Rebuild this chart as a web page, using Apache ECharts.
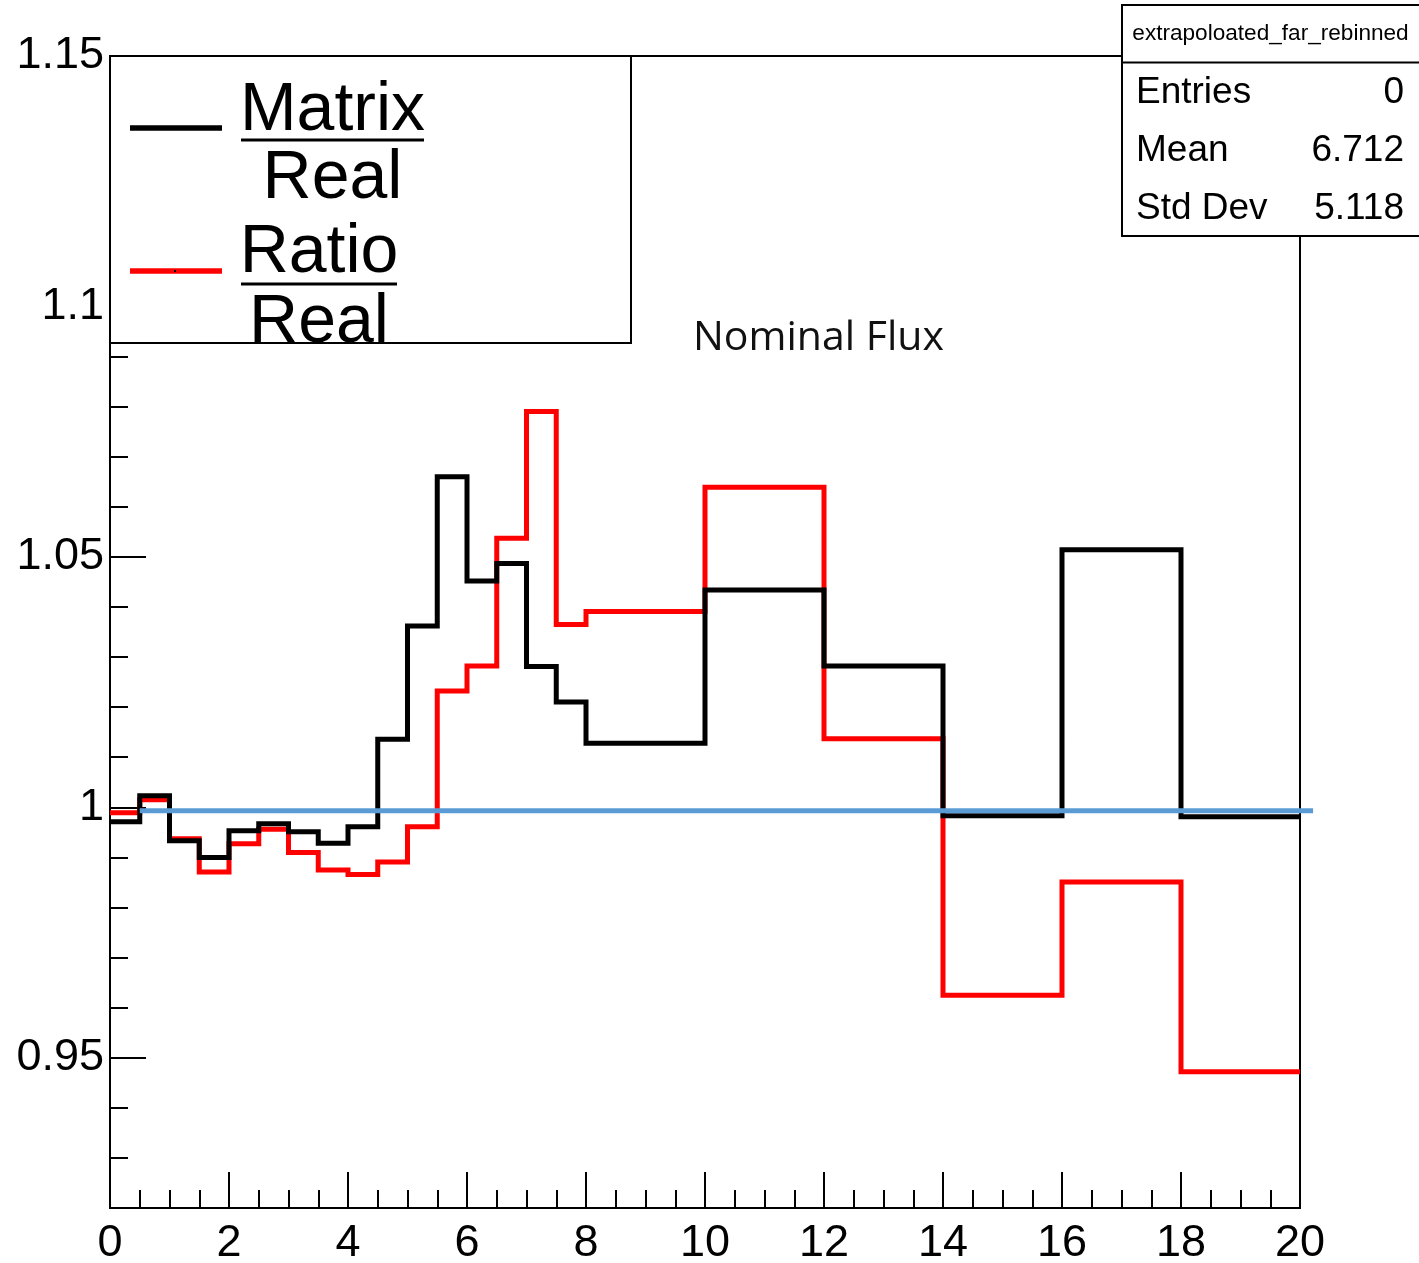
<!DOCTYPE html>
<html>
<head>
<meta charset="utf-8">
<script src="https://cdn.jsdelivr.net/npm/echarts@6/dist/echarts.min.js"></script>
<style>
  html, body { margin: 0; padding: 0; background: #fff; }
  #chart { width: 1419px; height: 1263px; }
</style>
</head>
<body>
<div id="chart"></div>
<script>
// Bin edges of the rebinned far-detector histogram (variable width above 8)
const binEdges = [0, 0.5, 1, 1.5, 2, 2.5, 3, 3.5, 4, 4.5, 5, 5.5, 6, 6.5, 7, 7.5, 8, 10, 12, 14, 16, 18, 20];

// Matrix / Real, one value per bin
const matrixOverReal = [0.9971, 1.0023, 0.9933, 0.9900, 0.9953, 0.9967, 0.9951, 0.9928, 0.9961, 1.0136,
                        1.0362, 1.0660, 1.0452, 1.0487, 1.0281, 1.0210, 1.0128, 1.0434, 1.0282, 0.9983,
                        1.0514, 0.9981];

// Ratio / Real, one value per bin
const ratioOverReal = [0.9989, 1.0015, 0.9937, 0.9871, 0.9927, 0.9956, 0.9910, 0.9875, 0.9866, 0.9891,
                       0.9961, 1.0232, 1.0282, 1.0537, 1.0790, 1.0365, 1.0391, 1.0639, 1.0137, 0.9625,
                       0.9851, 0.9472];

// Horizontal reference line at unity
const unityLevel = 0.9993;
const unitySpan = [0.5, 20.22];

// Statistics box
const histName = 'extrapoloated_far_rebinned';
const statNames = ['Entries', 'Mean', 'Std Dev'];
const statValues = ['0', '6.712', '5.118'];

// Legend entries: numerator / denominator
const legendNumerators = ['Matrix', 'Ratio'];
const legendDenominator = 'Real';
const panelLabel = 'Nominal Flux';

// Turn per-bin values into a step outline (left edge of each bin, plus the last right edge)
function histOutline(values) {
  const pts = values.map((v, i) => [binEdges[i], v]);
  pts.push([binEdges[binEdges.length - 1], values[values.length - 1]]);
  return pts;
}

const ROOT_FONT = '"Liberation Sans", Arial, Helvetica, sans-serif';
const black = '#000000';

const chart = echarts.init(document.getElementById('chart'), null, { renderer: 'canvas' });

const tickStyle = { color: black, width: 2 };

const graphics = [];

// ---- legend box ----
graphics.push({
  type: 'rect', z: 100,
  shape: { x: 110, y: 56, width: 521, height: 287 },
  style: { fill: '#ffffff', stroke: black, lineWidth: 2 }
});
const legendRows = [
  { color: black, lineY: 128, numY: 111, denY: 179, barY: 140, barX0: 241, barX1: 424, cx: 332.5 },
  { color: '#ff0000', lineY: 271, numY: 253, denY: 323, barY: 284, barX0: 241, barX1: 397, cx: 319 }
];
legendRows.forEach((r, i) => {
  graphics.push({
    type: 'line', z: 101,
    shape: { x1: 130, y1: r.lineY, x2: 222, y2: r.lineY },
    style: { stroke: r.color, lineWidth: 5.5 }
  });
  graphics.push({
    type: 'text', z: 102,
    style: { text: legendNumerators[i], x: r.cx, y: r.numY, font: '68px ' + ROOT_FONT,
             fill: black, align: 'center', verticalAlign: 'middle' }
  });
  graphics.push({
    type: 'line', z: 101,
    shape: { x1: r.barX0, y1: r.barY, x2: r.barX1, y2: r.barY },
    style: { stroke: black, lineWidth: 3 }
  });
  graphics.push({
    type: 'text', z: 102,
    style: { text: legendDenominator, x: r.cx, y: r.denY, font: '68px ' + ROOT_FONT,
             fill: black, align: 'center', verticalAlign: 'middle' }
  });
});
// marker dot on the second legend line
graphics.push({
  type: 'rect', z: 103,
  shape: { x: 174, y: 270, width: 2, height: 2 },
  style: { fill: black }
});

// ---- statistics box ----
graphics.push({
  type: 'rect', z: 100,
  shape: { x: 1122, y: 5, width: 320, height: 231 },
  style: { fill: '#ffffff', stroke: black, lineWidth: 2 }
});
graphics.push({
  type: 'line', z: 101,
  shape: { x1: 1122, y1: 62.5, x2: 1419, y2: 62.5 },
  style: { stroke: black, lineWidth: 2 }
});
graphics.push({
  type: 'text', z: 102,
  style: { text: histName, x: 1270.5, y: 34, font: '22.6px ' + ROOT_FONT, fill: black,
           align: 'center', verticalAlign: 'middle' }
});
const statRowY = [93, 151, 209];
statNames.forEach((name, i) => {
  graphics.push({
    type: 'text', z: 102,
    style: { text: name, x: 1136, y: statRowY[i], font: '37px ' + ROOT_FONT, fill: black,
             align: 'left', verticalAlign: 'middle' }
  });
  graphics.push({
    type: 'text', z: 102,
    style: { text: statValues[i], x: 1404, y: statRowY[i], font: '37px ' + ROOT_FONT, fill: black,
             align: 'right', verticalAlign: 'middle' }
  });
});

// ---- panel label ----
graphics.push({
  type: 'text', z: 102,
  style: { text: panelLabel, x: 693, y: 338, font: '41px "Open Sans", "Noto Sans", sans-serif',
           fill: '#111111', align: 'left', verticalAlign: 'middle' }
});

function majorLabel(v) {
  const q = v / 0.05;
  if (Math.abs(q - Math.round(q)) > 1e-6) return '';
  if (v < 0.925) return '';
  return String(+v.toFixed(2));
}

const option = {
  animation: false,
  backgroundColor: '#ffffff',
  grid: {
    left: 110, top: 56, width: 1190, height: 1152,
    containLabel: false, outerBoundsMode: 'none',
    show: true, borderColor: black, borderWidth: 2, backgroundColor: 'transparent'
  },
  xAxis: {
    type: 'value', min: 0, max: 20, interval: 2,
    axisLine: { show: true, lineStyle: tickStyle },
    axisTick: { show: true, inside: true, length: 36, lineStyle: tickStyle },
    minorTick: { show: true, splitNumber: 4, length: 18, lineStyle: tickStyle },
    axisLabel: { color: black, fontFamily: ROOT_FONT, fontSize: 45, margin: 13 },
    splitLine: { show: false }
  },
  yAxis: [
    {
      // fine divisions every 0.01
      type: 'value', min: 0.92, max: 1.15, interval: 0.01, position: 'left',
      axisLine: { show: true, lineStyle: tickStyle },
      axisTick: { show: true, inside: true, length: 18, lineStyle: tickStyle },
      axisLabel: { show: false },
      splitLine: { show: false }
    },
    {
      // labelled divisions every 0.05
      type: 'value', min: 0.92, max: 1.15, splitNumber: 5, position: 'left',
      axisLine: { show: false },
      axisTick: { show: true, inside: true, length: 36, lineStyle: tickStyle },
      axisLabel: { color: black, fontFamily: ROOT_FONT, fontSize: 45, margin: 6, formatter: majorLabel,
                   padding: [4, 0, 0, 0], showMinLabel: true, showMaxLabel: true },
      splitLine: { show: false }
    }
  ],
  series: [
    {
      name: 'Ratio / Real', type: 'line', step: 'end', yAxisIndex: 0, z: 2,
      data: histOutline(ratioOverReal), symbol: 'none',
      lineStyle: { color: '#ff0000', width: 5, join: 'miter', cap: 'butt' }
    },
    {
      name: 'Matrix / Real', type: 'line', step: 'end', yAxisIndex: 0, z: 3,
      data: histOutline(matrixOverReal), symbol: 'none',
      lineStyle: { color: black, width: 5, join: 'miter', cap: 'butt' }
    }
  ],
  graphic: graphics
};

chart.setOption(option);

// Unity reference line, placed through the axis scales; it runs a little past the right frame
const unityEnds = unitySpan.map(x => chart.convertToPixel({ xAxisIndex: 0, yAxisIndex: 0 }, [x, unityLevel]));
graphics.push({
  type: 'line', z: 10,
  shape: { x1: unityEnds[0][0], y1: unityEnds[0][1], x2: unityEnds[1][0], y2: unityEnds[1][1] },
  style: { stroke: '#5b9bd5', lineWidth: 5 }
});
chart.setOption({ graphic: graphics });
</script>
</body>
</html>
